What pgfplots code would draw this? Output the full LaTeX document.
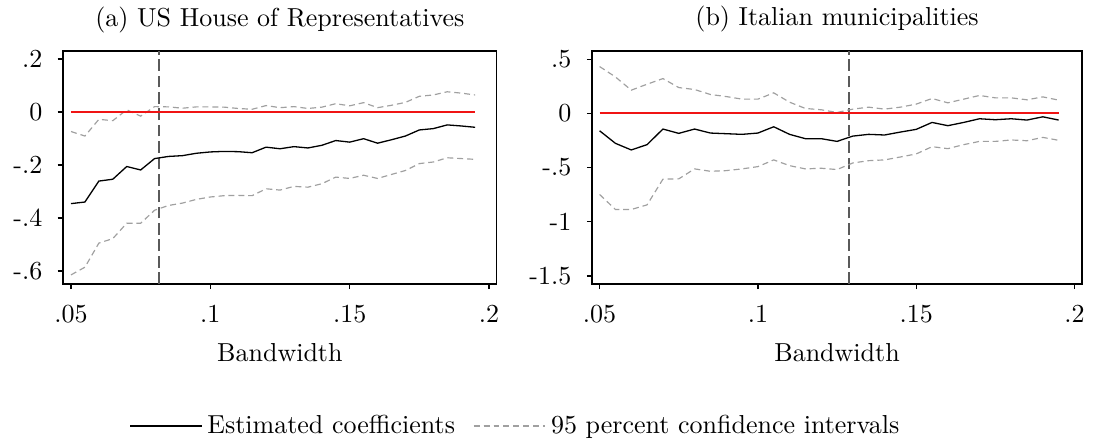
\documentclass[border=0pt]{standalone}
\usepackage{pgfplots}
\usepackage{pgfplotstable}
\pgfplotsset{compat=1.18}
\definecolor{cigray}{RGB}{160,160,160}
\definecolor{vlgray}{RGB}{90,90,90}
\definecolor{zred}{RGB}{240,20,20}

% Panel (a): bandwidth, estimate, upper CI, lower CI
\pgfplotstableread{
bw est up lo
0.050 -0.346 -0.074 -0.615
0.055 -0.340 -0.091 -0.586
0.060 -0.261 -0.028 -0.495
0.065 -0.254 -0.033 -0.478
0.070 -0.206 0.008 -0.420
0.075 -0.219 -0.016 -0.420
0.080 -0.176 0.020 -0.371
0.085 -0.168 0.019 -0.353
0.090 -0.165 0.014 -0.344
0.095 -0.156 0.019 -0.330
0.100 -0.151 0.019 -0.321
0.105 -0.149 0.018 -0.316
0.110 -0.150 0.013 -0.315
0.115 -0.154 0.010 -0.316
0.120 -0.133 0.024 -0.290
0.125 -0.139 0.016 -0.295
0.130 -0.131 0.020 -0.281
0.135 -0.136 0.013 -0.284
0.140 -0.126 0.018 -0.271
0.145 -0.108 0.031 -0.246
0.150 -0.114 0.023 -0.251
0.155 -0.101 0.035 -0.239
0.160 -0.118 0.016 -0.251
0.165 -0.105 0.025 -0.236
0.170 -0.091 0.036 -0.221
0.175 -0.068 0.059 -0.195
0.180 -0.063 0.064 -0.189
0.185 -0.049 0.076 -0.173
0.190 -0.053 0.071 -0.176
0.195 -0.058 0.064 -0.179
}\tabA

% Panel (b)
\pgfplotstableread{
bw est up lo
0.050 -0.160 0.433 -0.748
0.055 -0.276 0.337 -0.887
0.060 -0.337 0.215 -0.887
0.065 -0.288 0.270 -0.844
0.070 -0.144 0.322 -0.607
0.075 -0.184 0.239 -0.604
0.080 -0.144 0.221 -0.512
0.085 -0.181 0.175 -0.534
0.090 -0.187 0.156 -0.528
0.095 -0.193 0.132 -0.512
0.100 -0.181 0.132 -0.491
0.105 -0.123 0.190 -0.429
0.110 -0.193 0.104 -0.482
0.115 -0.233 0.046 -0.512
0.120 -0.233 0.034 -0.506
0.125 -0.258 0.009 -0.518
0.130 -0.209 0.040 -0.457
0.135 -0.193 0.058 -0.436
0.140 -0.199 0.040 -0.429
0.145 -0.172 0.058 -0.402
0.150 -0.147 0.086 -0.374
0.155 -0.083 0.138 -0.307
0.160 -0.113 0.098 -0.325
0.165 -0.083 0.132 -0.288
0.170 -0.049 0.166 -0.258
0.175 -0.058 0.144 -0.258
0.180 -0.049 0.144 -0.245
0.185 -0.061 0.126 -0.252
0.190 -0.031 0.153 -0.221
0.195 -0.061 0.123 -0.248
}\tabB

\pgfplotstableread{
bw z
0.050 0
0.195 0
}\tabZero

\pgfplotsset{
  every axis title shift=0pt,
  panel/.style={
    scale only axis, height=89.6pt,
    axis line style={line width=0.5pt, black},
    tick align=outside, tick pos=left, major tick length=2pt,
    every tick/.style={black, line width=0.5pt},
    xtick={0.05,0.1,0.15,0.2}, xticklabels={.05,.1,.15,.2},
    xlabel={Bandwidth},
    xlabel style={at={(axis description cs:0.5,0)}, anchor=base, yshift=-29.9pt},
    xticklabel style={yshift=-2.8pt},
    yticklabel style={xshift=-2.4pt},
    title style={at={(axis description cs:0.5,1)}, anchor=base, yshift=9.6pt},
  },
  estline/.style={black, line width=0.5pt},
  ciline/.style={cigray, line width=0.45pt, dash pattern=on 2.3pt off 1.5pt},
  vline/.style={vlgray, line width=0.75pt, dash pattern=on 4.5pt off 1.8pt},
  zeroline/.style={zred, line width=0.75pt},
}

\begin{document}
\begin{tikzpicture}
\useasboundingbox (-24.2pt,-62pt) rectangle (396.2pt,109.2pt);
\begin{axis}[panel,
  at={(0pt,0pt)}, width=166.9pt,
  xmin=0.0471, xmax=0.2028, ymin=-0.649, ymax=0.23,
  ytick={-0.6,-0.4,-0.2,0,0.2}, yticklabels={-.6,-.4,-.2,0,.2},
  title={(a) US House of Representatives},
  legend columns=2,
  legend image code/.code={\draw[#1] (0pt,0pt) -- (24pt,0pt); \path (0pt,0pt) -- (27.5pt,0pt);},
  legend style={draw=none, fill=none, inner sep=0pt, at={(axis description cs:0.152,-0.61)}, anchor=west,
    /tikz/every even column/.append style={column sep=5pt}},
]
\addplot[vline, forget plot] coordinates {(0.0816,-0.649) (0.0816,0.23)};
\addplot[estline] table[x=bw, y=est] {\tabA};
\addlegendentry{Estimated coefficients}
\addplot[ciline] table[x=bw, y=up] {\tabA};
\addlegendentry{95 percent confidence intervals}
\addplot[ciline, forget plot] table[x=bw, y=lo] {\tabA};
\addplot[zeroline, forget plot] table[x=bw, y=z] {\tabZero};
\end{axis}
\begin{axis}[panel,
  at={(203.5pt,0pt)}, width=188.5pt,
  xmin=0.0476, xmax=0.2024, ymin=-1.574, ymax=0.577,
  ytick={-1.5,-1,-0.5,0,0.5}, yticklabels={-1.5,-1,-.5,0,.5},
  title={(b) Italian municipalities},
]
\addplot[vline, forget plot] coordinates {(0.1287,-1.574) (0.1287,0.577)};
\addplot[estline, forget plot] table[x=bw, y=est] {\tabB};
\addplot[ciline, forget plot] table[x=bw, y=up] {\tabB};
\addplot[ciline, forget plot] table[x=bw, y=lo] {\tabB};
\addplot[zeroline, forget plot] table[x=bw, y=z] {\tabZero};
\end{axis}
\end{tikzpicture}
\end{document}
